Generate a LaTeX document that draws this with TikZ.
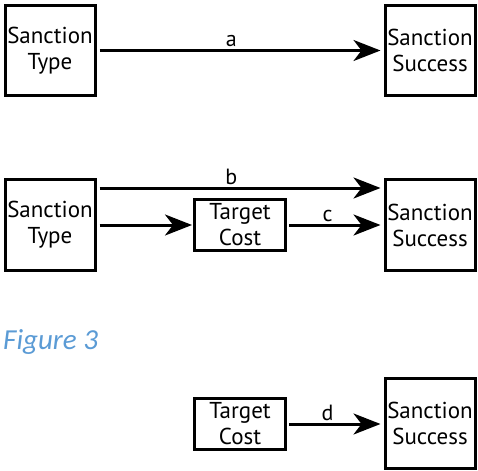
\documentclass[tikz,border=0pt]{standalone}
\usepackage{fontspec}
\setmainfont{PT Sans}
\newfontfamily\capfont{Carlito}
\usetikzlibrary{arrows.meta}
\definecolor{capblue}{HTML}{5B9BD5}
\begin{document}
\begin{tikzpicture}[x=1pt,y=-1pt,
  box/.style={draw=black, line width=3pt, align=center, inner sep=0pt,
    font=\fontsize{23}{26}\selectfont},
  bigbox/.style={box, minimum width=90pt, minimum height=90pt},
  smallbox/.style={box, minimum width=91pt, minimum height=51pt},
  conn/.style={line width=3pt, -{Stealth[length=27pt,width=21pt,inset=8pt]}},
  lab/.style={font=\fontsize{22}{26}\selectfont, anchor=base, yshift=4pt, inner sep=0pt}]
\useasboundingbox (0,0) rectangle (478,470);
% row 1
\node[bigbox] (t1) at (50,50.5) {Sanction\\Type};
\node[bigbox] (s1) at (430,50.5) {Sanction\\Success};
\draw[conn, shorten <=3pt, shorten >=3pt] (t1.east) -- node[lab, pos=0.47] {a} (s1.west);
% row 2
\node[bigbox] (t2) at (50,225) {Sanction\\Type};
\node[bigbox] (s2) at (430,225) {Sanction\\Success};
\node[smallbox] (c2) at (240,225) {Target\\Cost};
\draw[conn, shorten <=3pt, shorten >=3pt] ([yshift=37pt]t2.east) -- node[lab, pos=0.47] {b} ([yshift=37pt]s2.west);
\draw[conn, shorten <=3pt, shorten >=1pt] (t2.east) -- (c2.west);
\draw[conn, shorten <=2pt, shorten >=3pt] (c2.east) -- node[lab, pos=0.42] {c} (s2.west);
% caption
\node[anchor=base west, inner sep=0pt, text=capblue, font=\capfont\itshape\fontsize{29}{34}\selectfont] (fig) at (3,349) {Figure 3};
% row 3
\node[smallbox] (c3) at (240,424) {Target\\Cost};
\node[bigbox] (s3) at (430,423.5) {Sanction\\Success};
\draw[conn, shorten <=2pt, shorten >=3pt] (c3.east) -- node[lab, pos=0.42] {d} (c3.east -| s3.west);
\end{tikzpicture}
\end{document}
